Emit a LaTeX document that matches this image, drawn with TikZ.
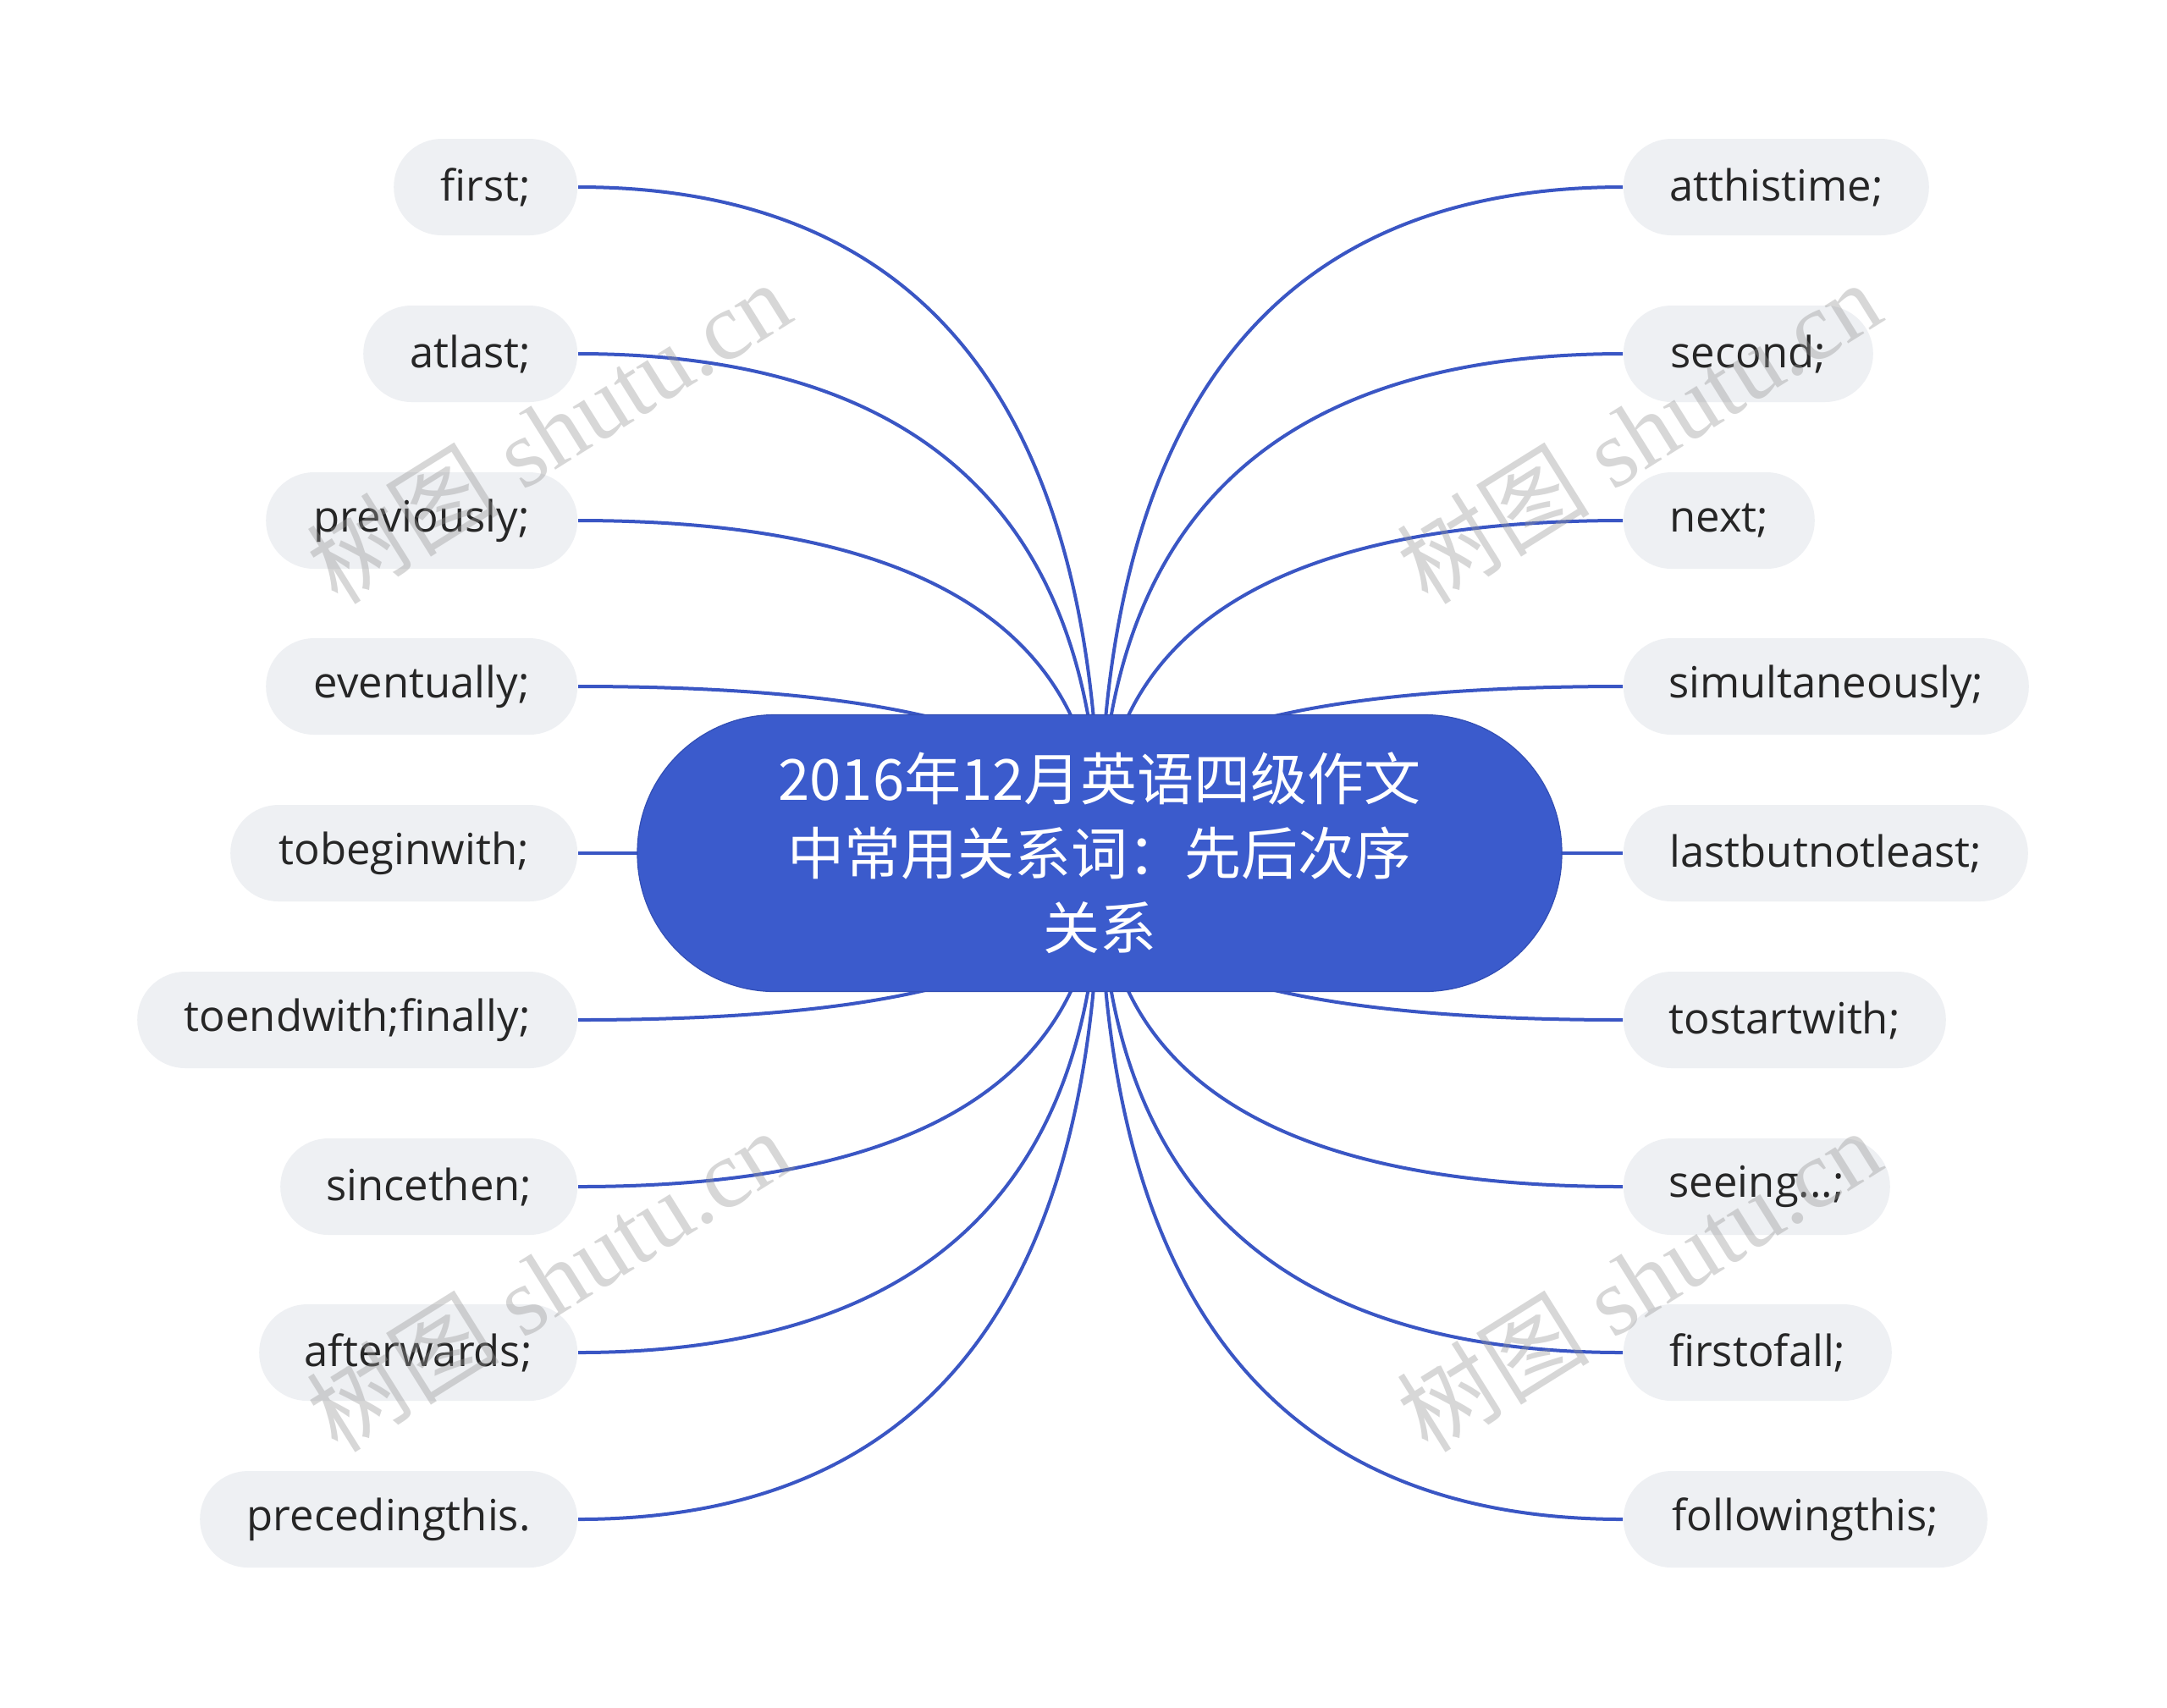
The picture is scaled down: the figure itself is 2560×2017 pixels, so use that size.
\documentclass[tikz,border=0pt]{standalone}
\usepackage{fontspec}
\setmainfont{Open Sans}
\newfontfamily\cjk{Noto Sans CJK SC}
\newfontfamily\wmserif{Liberation Serif}
\usetikzlibrary{calc}
\pgfdeclarelayer{background}
\pgfdeclarelayer{foreground}
\pgfsetlayers{background,main,foreground}
\definecolor{mainblue}{RGB}{59,91,204}
\definecolor{mainedge}{RGB}{50,78,180}
\definecolor{lineblue}{RGB}{58,86,196}
\definecolor{leaffill}{RGB}{238,240,243}
\definecolor{leaftext}{RGB}{38,38,38}
\definecolor{wmgray}{RGB}{150,150,150}
\newcommand\linkto[1]{\draw[conn] (c.center) .. controls ($(c.center)!0.6667!(c.center|-#1)$) and ($(#1)!0.6667!(c.center|-#1)$) .. (#1);}
\begin{document}
\begin{tikzpicture}[x=0.25pt,y=-0.25pt,
  leaf/.style={rounded corners=14.2pt, fill=leaffill, minimum height=28.5pt, inner sep=0pt, text=leaftext, font=\fontsize{12.7}{15}\selectfont},
  lleaf/.style={leaf, anchor=east},
  rleaf/.style={leaf, anchor=west},
  topic/.style={rounded corners=40.6pt, fill=mainblue, draw=mainedge, line width=0.3pt, text=white, minimum width=273pt, minimum height=81.75pt, inner sep=0pt, align=center, font=\cjk\fontsize{16.75}{22}\selectfont},
  conn/.style={draw=lineblue, line width=1pt},
  wm/.style={text=wmgray, opacity=0.38, font=\wmserif\fontsize{28.5}{32}\selectfont, rotate=32}]
\useasboundingbox (0,0) rectangle (2560,2017);
\node[topic] (c) at (1299,1008) {2016年12月英语四级作文\\中常用关系词：先后次序\\关系};
% left leaves
\node[lleaf, minimum width=54.25pt] (l1) at (683,221) {first;};
\node[lleaf, minimum width=63.25pt] (l2) at (683,418) {atlast;};
\node[lleaf, minimum width=92pt] (l3) at (683,615) {previously;};
\node[lleaf, minimum width=92pt] (l4) at (683,811) {eventually;};
\node[lleaf, minimum width=102.5pt] (l5) at (683,1008) {tobeginwith;};
\node[lleaf, minimum width=130pt] (l6) at (683,1205) {toendwith;finally;};
\node[lleaf, minimum width=87.75pt] (l7) at (683,1402) {sincethen;};
\node[lleaf, minimum width=94pt] (l8) at (683,1598) {afterwards;};
\node[lleaf, minimum width=111.5pt] (l9) at (683,1795) {precedingthis.};
% right leaves
\node[rleaf, minimum width=90.25pt] (r1) at (1917,221) {atthistime;};
\node[rleaf, minimum width=73.75pt] (r2) at (1917,418) {second;};
\node[rleaf, minimum width=56.5pt] (r3) at (1917,615) {next;};
\node[rleaf, minimum width=119.75pt] (r4) at (1917,811) {simultaneously;};
\node[rleaf, minimum width=119.5pt] (r5) at (1917,1008) {lastbutnotleast;};
\node[rleaf, minimum width=95.25pt] (r6) at (1917,1205) {tostartwith;};
\node[rleaf, minimum width=78.75pt] (r7) at (1917,1402) {seeing...;};
\node[rleaf, minimum width=79.25pt] (r8) at (1917,1598) {firstofall;};
\node[rleaf, minimum width=107.5pt] (r9) at (1917,1795) {followingthis;};
\begin{pgfonlayer}{background}
\fill[white] (0,0) rectangle (2560,2017);
\foreach \n in {1,...,9}{\linkto{l\n.east}\linkto{r\n.west}}
\end{pgfonlayer}
\begin{pgfonlayer}{foreground}
\node[wm] (w1) at (648,510) {{\cjk 树图} shutu.cn};
\node[wm] (w2) at (1936,510) {{\cjk 树图} shutu.cn};
\node[wm] (w3) at (648,1512) {{\cjk 树图} shutu.cn};
\node[wm] (w4) at (1936,1512) {{\cjk 树图} shutu.cn};
\end{pgfonlayer}
\end{tikzpicture}
\end{document}
